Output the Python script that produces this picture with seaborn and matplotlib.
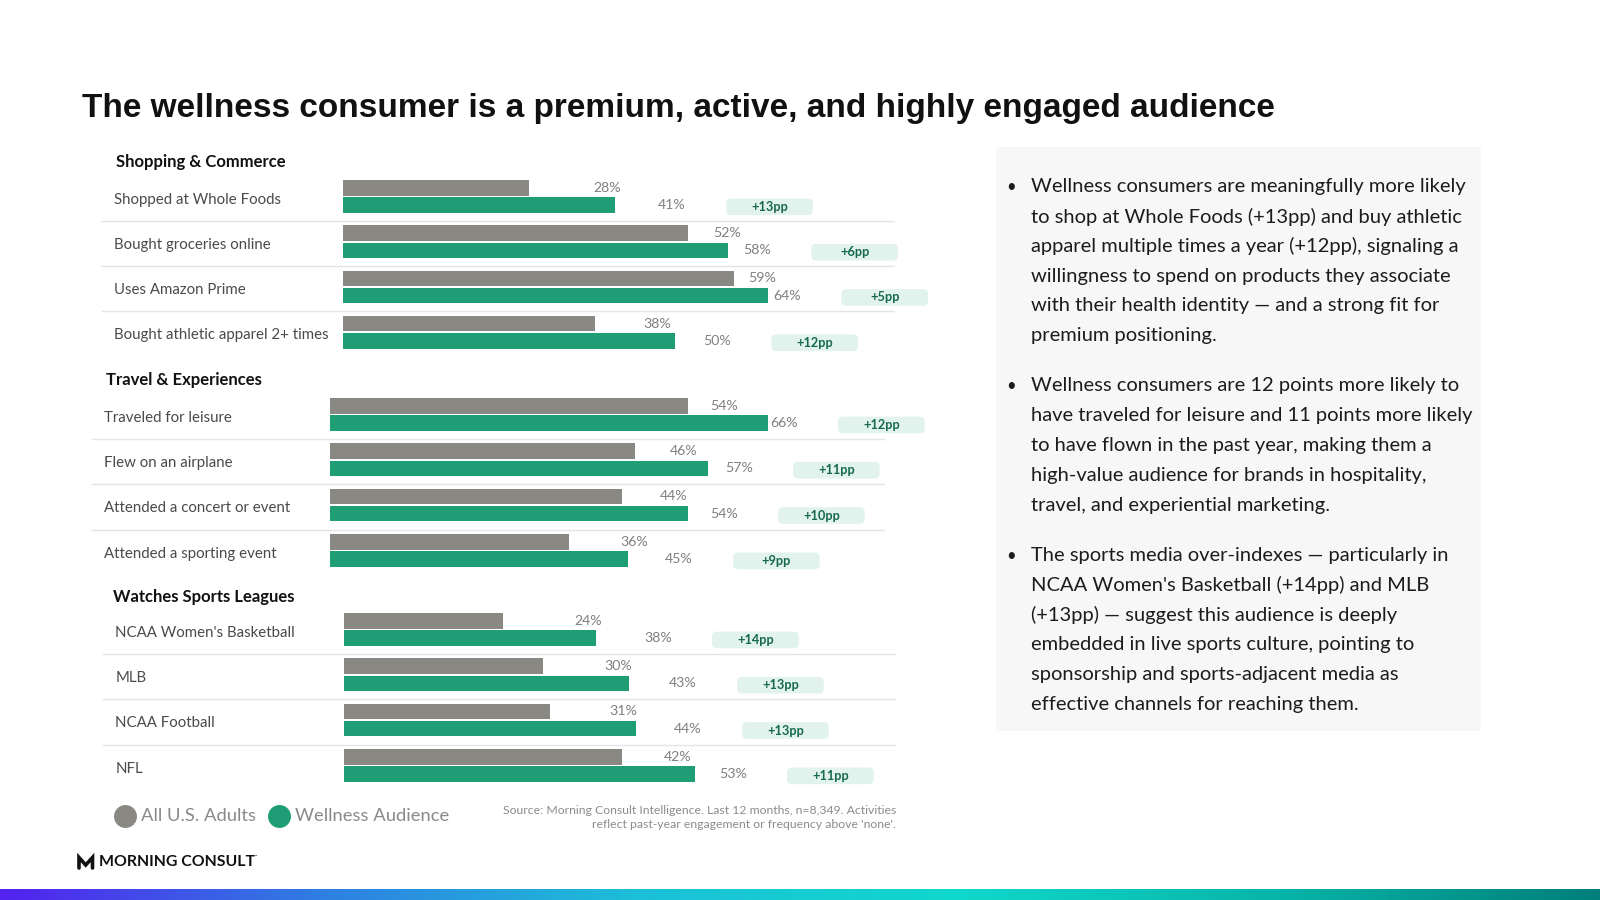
import numpy as np
import pandas as pd
import matplotlib
matplotlib.use("Agg")
import matplotlib.pyplot as plt
import seaborn as sns
from matplotlib.patches import FancyBboxPatch, Rectangle
from matplotlib.lines import Line2D
from matplotlib.colors import LinearSegmentedColormap

# Data
series_names = ["All U.S. Adults", "Wellness Audience"]

shop_title = "Shopping & Commerce"
shop_labels = ["Shopped at Whole Foods", "Bought groceries online",
               "Uses Amazon Prime", "Bought athletic apparel 2+ times"]
shop_all = [28, 52, 59, 38]
shop_well = [41, 58, 64, 50]

travel_title = "Travel & Experiences"
travel_labels = ["Traveled for leisure", "Flew on an airplane",
                 "Attended a concert or event", "Attended a sporting event"]
travel_all = [54, 46, 44, 36]
travel_well = [66, 57, 54, 45]

sports_title = "Watches Sports Leagues"
sports_labels = ["NCAA Women's Basketball", "MLB", "NCAA Football", "NFL"]
sports_all = [24, 30, 31, 42]
sports_well = [38, 43, 44, 53]

title = "The wellness consumer is a premium, active, and highly engaged audience"
source_lines = ["Source: Morning Consult Intelligence. Last 12 months, n=8,349. Activities",
                "reflect past-year engagement or frequency above 'none'."]

bullet_1 = ["Wellness consumers are meaningfully more likely",
            "to shop at Whole Foods (+13pp) and buy athletic",
            "apparel multiple times a year (+12pp), signaling a",
            "willingness to spend on products they associate",
            "with their health identity \u2014 and a strong fit for",
            "premium positioning."]
bullet_2 = ["Wellness consumers are 12 points more likely to",
            "have traveled for leisure and 11 points more likely",
            "to have flown in the past year, making them a",
            "high-value audience for brands in hospitality,",
            "travel, and experiential marketing."]
bullet_3 = ["The sports media over-indexes \u2014 particularly in",
            "NCAA Women's Basketball (+14pp) and MLB",
            "(+13pp) \u2014 suggest this audience is deeply",
            "embedded in live sports culture, pointing to",
            "sponsorship and sports-adjacent media as",
            "effective channels for reaching them."]

# Colours
GRAY = "#8a8882"
GREEN = "#1f9e75"
PILL_BG = "#e2f3ed"
PILL_TXT = "#17694d"
VAL_TXT = "#808080"
LAB_TXT = "#4a4a4a"

sns.set_theme(style="white")
plt.rcParams["font.family"] = ["Lato", "DejaVu Sans"]

W, H = 1600, 900
fig = plt.figure(figsize=(16, 9), dpi=100)
fig.patch.set_facecolor("white")


def fx(px):
    return px / W


def fy(py):
    return 1 - py / H


PX_PER_PCT = 6.63
ROW_PX = 45.3

# (section data, pixel layout)
panels = [
    ((shop_title, shop_labels, shop_all, shop_well),
     dict(left=101, zero=343.3, right=895, first=196.4, head_x=115.7, head_y=162, lab_x=114.3)),
    ((travel_title, travel_labels, travel_all, travel_well),
     dict(left=90.8, zero=330, right=884.7, first=414.5, head_x=106, head_y=380, lab_x=104.3)),
    ((sports_title, sports_labels, sports_all, sports_well),
     dict(left=101.7, zero=344, right=896, first=629.5, head_x=112.7, head_y=597, lab_x=115.3)),
]

for (sec, labels, vals_all, vals_well), lay in panels:
    n = len(labels)
    top = lay["first"] - ROW_PX / 2
    ax = fig.add_axes([fx(lay["left"]), fy(top + n * ROW_PX),
                       (lay["right"] - lay["left"]) / W, n * ROW_PX / H])
    df = pd.DataFrame({
        "item": labels * 2,
        "group": [series_names[0]] * n + [series_names[1]] * n,
        "value": vals_all + vals_well,
    })
    sns.barplot(data=df, x="value", y="item", hue="group", hue_order=series_names,
                palette=[GRAY, GREEN], orient="h", width=0.76, gap=0.1,
                saturation=1, linewidth=0, legend=False, ax=ax)
    x0 = -(lay["zero"] - lay["left"]) / PX_PER_PCT
    x1 = (lay["right"] - lay["zero"]) / PX_PER_PCT
    ax.set_xlim(x0, x1)
    ax.set_ylim(n - 0.5, -0.5)
    ax.set_axis_off()

    # row separators
    ax.hlines([i + 0.54 for i in range(n - 1)], x0, x1, color="#e5e5e5", lw=1)

    # row labels and section header
    for i, lab in enumerate(labels):
        ax.text(x0 + (lay["lab_x"] - lay["left"]) / PX_PER_PCT, i + 0.07, lab,
                ha="left", va="center", fontsize=10.8, color=LAB_TXT)
    fig.text(fx(lay["head_x"]), fy(lay["head_y"]), sec, ha="left", va="center",
             fontsize=12, fontweight="bold", color="#111111")

    # value labels
    for cont in ax.containers:
        for bar in cont:
            v = bar.get_width()
            yc = bar.get_y() + bar.get_height() / 2
            ax.text(0.754 * v + 16.6, yc, f"{v:.0f}%", ha="left", va="center",
                    fontsize=10.2, color=VAL_TXT)

    # difference pills
    pw = 86.7 / PX_PER_PCT
    ph = 16.7 / ROW_PX
    for bar, a, w in zip(ax.containers[1], vals_all, vals_well):
        yc = bar.get_y() + bar.get_height() / 2 + 0.04
        cx = 0.754 * w + 33.4
        ax.add_patch(FancyBboxPatch((cx - pw / 2, yc - ph / 2), pw, ph,
                                    boxstyle=f"round,pad=0,rounding_size={5 / PX_PER_PCT}",
                                    mutation_aspect=PX_PER_PCT / ROW_PX,
                                    fc=PILL_BG, ec="none", clip_on=False))
        ax.text(cx, yc, f"+{w - a}pp", ha="center", va="center", fontsize=9.2,
                fontweight="bold", color=PILL_TXT, clip_on=False)

# Title
fig.text(fx(82), fy(108), title, ha="left", va="center", fontsize=24,
         fontweight="bold", family=["Liberation Sans", "DejaVu Sans"], color="#111111")

# Legend
for cx, tx, col, name in [(124.8, 141, GRAY, series_names[0]),
                          (278.5, 295, GREEN, series_names[1])]:
    fig.add_artist(Line2D([fx(cx)], [fy(816)], marker="o", ms=15.5, color=col,
                          lw=0, transform=fig.transFigure))
    fig.text(fx(tx), fy(816), name, ha="left", va="center", fontsize=13.2, color="#8a8a8a")

# Source note
for k, line in enumerate(source_lines):
    fig.text(fx(896), fy(810 + 14 * k), line, ha="right", va="center",
             fontsize=8.85, color="#8c8c8c")

# Right commentary panel
fig.add_artist(Rectangle((fx(996), fy(730.6)), (1480.6 - 996) / W, (730.6 - 147) / H,
                         transform=fig.transFigure, fc="#f7f7f7", ec="none", zorder=0))
y = 186.7
for para in [bullet_1, bullet_2, bullet_3]:
    fig.text(fx(1006), fy(y), "\u2022", ha="left", va="center", fontsize=12, color="#1c1c1c")
    for line in para:
        fig.text(fx(1030.6), fy(y), line, ha="left", va="center", fontsize=14.5, color="#1c1c1c")
        y += 29.8
    y += 20.5

# Logo
fig.add_artist(Line2D([fx(79), fx(79), fx(85.7), fx(92.5), fx(92.5)],
                      [fy(868), fy(857.5), fy(865), fy(857.5), fy(868)],
                      color="#111111", lw=2.6, solid_joinstyle="miter",
                      transform=fig.transFigure))
fig.text(fx(99), fy(862.5), "MORNING CONSULT", ha="left", va="center", fontsize=11.4,
         fontweight="bold", color="#111111")
fig.text(fx(255), fy(856), "\u00b7", ha="left", va="center", fontsize=6, color="#111111")

# Gradient strip along the bottom
cmap = LinearSegmentedColormap.from_list(
    "strip", ["#5222ee", "#2f7fe2", "#1cc0d8", "#10d8cb", "#08b5a8", "#007f7a"])
ax_g = fig.add_axes([0, 0, 1, 11.5 / H])
ax_g.imshow(np.linspace(0, 1, 512)[None, :], aspect="auto", cmap=cmap)
ax_g.set_axis_off()

fig.savefig("out.png", dpi=100)
